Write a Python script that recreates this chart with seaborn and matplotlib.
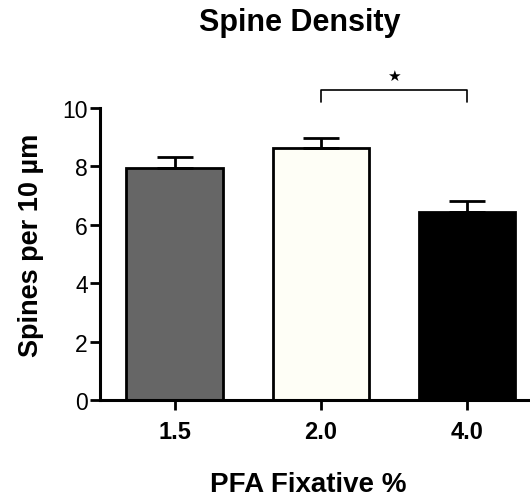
import matplotlib
matplotlib.use("Agg")
import matplotlib.pyplot as plt
import numpy as np
import pandas as pd
import seaborn as sns

# data
pfa_levels = ["1.5", "2.0", "4.0"]
spine_means = [7.95, 8.63, 6.44]
spine_sem = [0.38, 0.34, 0.38]
bar_colors = ["#666666", "#FFFFF5", "#000000"]
yticks = [0, 2, 4, 6, 8, 10]

sns.set_style("ticks")
plt.rcParams["font.family"] = ["Liberation Sans", "DejaVu Sans"]
plt.rcParams["text.color"] = "black"
plt.rcParams["axes.labelcolor"] = "black"
plt.rcParams["xtick.color"] = "black"
plt.rcParams["ytick.color"] = "black"
plt.rcParams["axes.edgecolor"] = "black"

df = pd.DataFrame({"pfa": pfa_levels, "density": spine_means})

fig = plt.figure(figsize=(5.3, 5.02), dpi=100)
ax = fig.add_axes([0.189, 0.201, 0.811, 0.582])

sns.barplot(
    data=df,
    x="pfa",
    y="density",
    hue="pfa",
    palette=bar_colors,
    width=0.66,
    edgecolor="black",
    linewidth=2,
    legend=False,
    errorbar=None,
    ax=ax,
)

x = np.arange(len(pfa_levels))
ax.errorbar(
    x,
    spine_means,
    yerr=[np.zeros(len(spine_sem)), spine_sem],
    fmt="none",
    ecolor="black",
    elinewidth=2,
    capsize=13,
    capthick=2,
    zorder=1,
)

# significance bracket between 2.0 and 4.0
ax.plot([1, 1, 2, 2], [10.2, 10.62, 10.62, 10.2], color="black", lw=1.2, clip_on=False)
ax.text(1.5, 11.1, "★", ha="center", va="center", fontsize=11,
        family=["DejaVu Sans"], clip_on=False)

ax.set_xlim(-0.51, 2.43)
ax.set_ylim(0, 10)
ax.set_yticks(yticks)
ax.set_yticklabels([str(t) for t in yticks], fontsize=16.5)
ax.set_xticks(x)
ax.set_xticklabels(pfa_levels, fontsize=17, fontweight="bold")
ax.tick_params(axis="both", direction="out", length=7, width=2, pad=2)
ax.tick_params(axis="x", pad=7)

sns.despine(ax=ax)
for side in ["left", "bottom"]:
    ax.spines[side].set_linewidth(2.2)

ax.set_xlabel("")
ax.set_ylabel("Spines per 10 µm", fontsize=19.5, fontweight="bold", labelpad=13)
ax.yaxis.label.set_y(0.534)
fig.text(0.581, 1 - 485 / 502, "PFA Fixative %", ha="center", va="center",
         fontsize=20, fontweight="bold")
fig.text(0.566, 1 - 23 / 502, "Spine Density", ha="center", va="center",
         fontsize=22, fontweight="bold")

fig.savefig("out.png", dpi=100)
